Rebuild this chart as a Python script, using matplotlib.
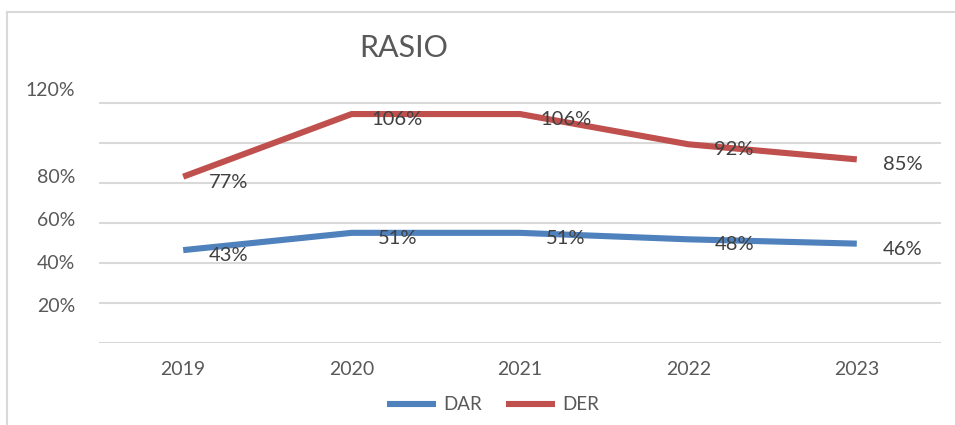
import matplotlib.pyplot as plt
import numpy as np
from matplotlib.transforms import ScaledTranslation

years = ["2019", "2020", "2021", "2022", "2023"]
dar = [0.43, 0.51, 0.51, 0.48, 0.46]
der = [0.77, 1.06, 1.06, 0.92, 0.85]
ytick_vals = [0.2, 0.4, 0.6, 0.8, 1.2]
ytick_labels = ["20%", "40%", "60%", "80%", "120%"]

W, H = 955, 425
plt.rcParams["font.family"] = ["Lato", "DejaVu Sans"]
txt = "#404040"

fig = plt.figure(figsize=(W / 100, H / 100), dpi=100)

# plot area in pixels: x 99..941, y 80..343 (0% sits on the bottom gridline)
left, right, top, bottom = 99, 941, 80, 343
ax = fig.add_axes([left / W, 1 - bottom / H, (right - left) / W, (bottom - top) / H])
px_per_unit = 216.0
ax.set_ylim(0, (bottom - top) / px_per_unit)
ax.set_xlim(-0.5, len(years) - 0.5)

# gridlines every 40 px as in the picture
step = 40 / px_per_unit
for i in range(7):
    ax.axhline(i * step, color="#d9d9d9", lw=1.5, zorder=1)

x = np.arange(len(years))
ax.plot(x, dar, color="#4f81bd", lw=4.4, solid_capstyle="butt", label="DAR", zorder=3)
ax.plot(x, der, color="#c0504d", lw=4.4, solid_capstyle="butt", label="DER", zorder=3)

for xi, v in zip(x, dar):
    ax.annotate(f"{v * 100:.0f}%", (xi, v), xytext=(33, -4), textcoords="offset points",
                ha="center", va="center", fontsize=14.5, color=txt, zorder=4)
for xi, v in zip(x, der):
    ax.annotate(f"{v * 100:.0f}%", (xi, v), xytext=(33, -4), textcoords="offset points",
                ha="center", va="center", fontsize=14.5, color=txt, zorder=4)

ax.set_xticks(x)
ax.set_xticklabels(years, fontsize=14, color="#595959")
ax.set_yticks(ytick_vals)
ax.set_yticklabels(ytick_labels, fontsize=14, color="#595959")
ax.tick_params(axis="both", length=0)
ax.tick_params(axis="x", pad=13)
ax.tick_params(axis="y", pad=17)
shift = ScaledTranslation(0, -4 / 72, fig.dpi_scale_trans)
for lab in ax.get_yticklabels():
    lab.set_transform(lab.get_transform() + shift)
for s in ax.spines.values():
    s.set_visible(False)

fig.text(404 / W, 1 - 48 / H, "RASIO", fontsize=22, color="#595959", ha="center", va="center")

fig.legend(loc="center", bbox_to_anchor=(493 / W, 1 - 405 / H), ncol=2, frameon=False,
           fontsize=13.5, handlelength=2.6, handletextpad=0.4, columnspacing=1.3,
           labelcolor="#595959")

# chart border (left and top edges visible)
fig.add_artist(plt.Line2D([7 / W, 7 / W], [0, 1 - 12 / H], color="#d9d9d9", lw=1.5))
fig.add_artist(plt.Line2D([7 / W, 1], [1 - 12 / H, 1 - 12 / H], color="#d9d9d9", lw=1.5))

fig.savefig("out.png", dpi=100)
